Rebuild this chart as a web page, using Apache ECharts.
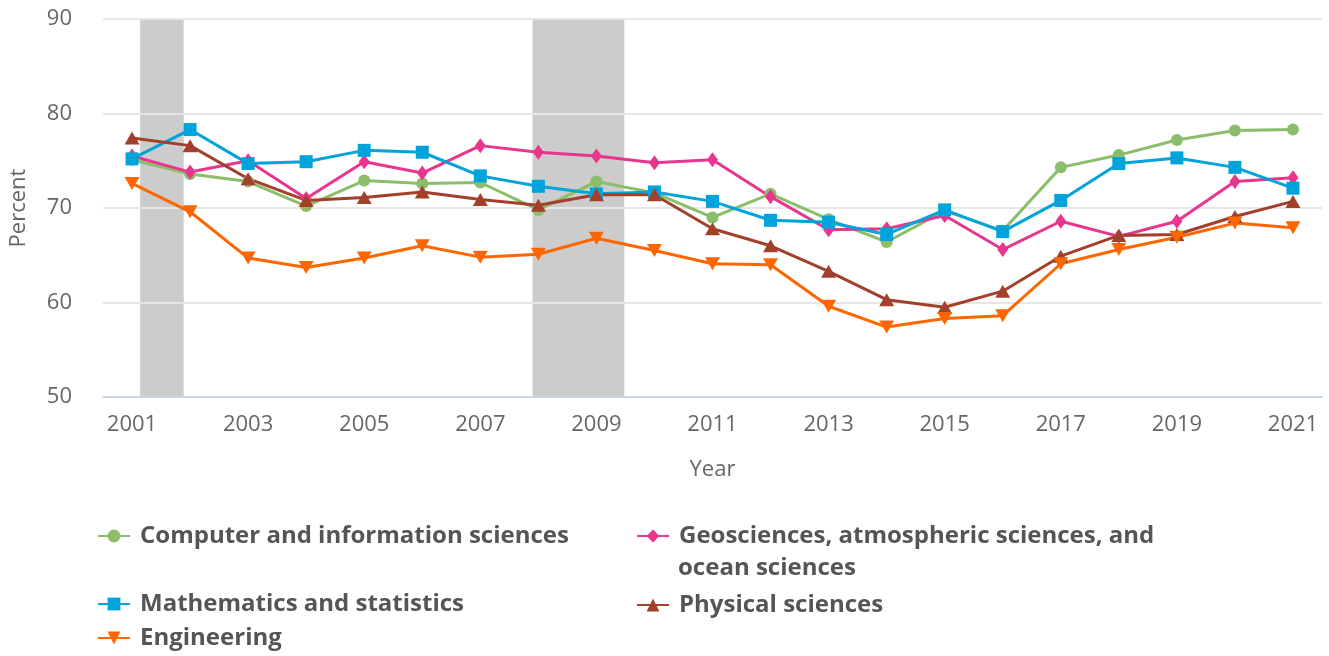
<!DOCTYPE html>
<html>
<head>
<meta charset="utf-8">
<title>Percent by field, 2001-2021</title>
<script src="https://cdn.jsdelivr.net/npm/echarts@6/dist/echarts.min.js"></script>
<style>
    html, body { margin: 0; padding: 0; background: #fff; }
    #chart { width: 1329px; height: 656px; }
</style>
</head>
<body>
<div id="chart"></div>
<script>
    // years on the x axis
    var years = ['2001', '2002', '2003', '2004', '2005', '2006', '2007', '2008', '2009', '2010', '2011',
        '2012', '2013', '2014', '2015', '2016', '2017', '2018', '2019', '2020', '2021'];

    // percent values
    var computer = [75.1, 73.6, 72.8, 70.2, 72.9, 72.6, 72.7, 69.8, 72.8, 71.6, 69.0,
        71.5, 68.8, 66.4, 69.7, 67.6, 74.3, 75.6, 77.2, 78.2, 78.3];
    var geosciences = [75.5, 73.8, 75.0, 71.0, 74.9, 73.7, 76.6, 75.9, 75.5, 74.8, 75.1,
        71.2, 67.7, 67.8, 69.2, 65.6, 68.6, 67.0, 68.6, 72.8, 73.2];
    var mathematics = [75.2, 78.3, 74.7, 74.9, 76.1, 75.9, 73.4, 72.3, 71.5, 71.7, 70.7,
        68.7, 68.5, 67.2, 69.8, 67.5, 70.8, 74.7, 75.3, 74.3, 72.1];
    var physical = [77.4, 76.6, 73.1, 70.8, 71.1, 71.7, 70.9, 70.3, 71.4, 71.4, 67.8,
        66.0, 63.3, 60.3, 59.5, 61.2, 64.9, 67.1, 67.2, 69.1, 70.7];
    var engineering = [72.6, 69.6, 64.7, 63.7, 64.7, 66.0, 64.8, 65.1, 66.8, 65.5, 64.1,
        64.0, 59.6, 57.4, 58.3, 58.6, 64.1, 65.6, 66.9, 68.4, 67.9];

    // recession periods (fractional years)
    var recessionStart = [2001.14, 2007.9];
    var recessionEnd = [2001.89, 2009.48];

    var yTicks = [50, 60, 70, 80, 90];

    var names = ['Computer and information sciences', 'Geosciences, atmospheric sciences, and',
        'Mathematics and statistics', 'Physical sciences', 'Engineering'];
    var colors = ['#8bbd6b', '#e8368f', '#00a3da', '#a2402b', '#ff6600'];

    var font = '"Open Sans", "Noto Sans", sans-serif';

    var chart = echarts.init(document.getElementById('chart'));

    function lineSeries(i, data, symbol, size) {
        return {
            name: names[i],
            type: 'line',
            data: data,
            symbol: symbol,
            symbolSize: size,
            showAllSymbol: true,
            color: colors[i],
            lineStyle: {width: 3, color: colors[i]},
            itemStyle: {color: colors[i]},
            emphasis: {disabled: true},
            animation: false
        };
    }

    function legendAt(i, left, top) {
        return {
            data: [names[i]],
            left: left,
            top: top,
            padding: 0,
            itemWidth: 32,
            itemHeight: 16,
            selectedMode: false,
            textStyle: {
                fontFamily: font,
                fontSize: 24,
                fontWeight: 'bold',
                color: '#555',
                padding: [0, 0, 0, 5]
            }
        };
    }

    var shadeAreas = recessionStart.map(function (s, k) {
        return [{xAxis: s}, {xAxis: recessionEnd[k]}];
    });

    var option = {
        backgroundColor: '#fff',
        animation: false,
        grid: {left: 103, right: 7, top: 19, bottom: 259},
        xAxis: [
            {
                type: 'category',
                data: years,
                boundaryGap: true,
                name: 'Year',
                nameLocation: 'middle',
                nameGap: 62,
                nameTextStyle: {fontFamily: font, fontSize: 22, color: '#666'},
                axisLine: {lineStyle: {color: '#ccd6eb', width: 2}},
                axisTick: {alignWithLabel: true, interval: 1, length: 18, lineStyle: {color: '#ccd6eb', width: 2}},
                axisLabel: {interval: 1, fontFamily: font, fontSize: 22, color: '#666', margin: 17},
                splitLine: {show: false}
            },
            {
                type: 'value',
                min: 2000.5,
                max: 2021.5,
                show: false
            }
        ],
        yAxis: {
            type: 'value',
            min: yTicks[0],
            max: yTicks[yTicks.length - 1],
            interval: 10,
            name: 'Percent',
            nameLocation: 'middle',
            nameGap: 73,
            nameTextStyle: {fontFamily: font, fontSize: 22, color: '#666'},
            axisLine: {show: false},
            axisTick: {show: false},
            axisLabel: {fontFamily: font, fontSize: 22, color: '#666', margin: 31},
            splitLine: {lineStyle: {color: '#e6e6e6', width: 2}}
        },
        legend: [
            legendAt(0, 97, 524),
            legendAt(1, 636, 524),
            legendAt(2, 97, 592),
            legendAt(3, 636, 593),
            legendAt(4, 97, 626)
        ],
        graphic: [{
            type: 'text',
            left: 678,
            top: 556,
            style: {
                text: 'ocean sciences',
                font: 'bold 24px ' + font,
                fill: '#555'
            }
        }],
        series: [
            {
                type: 'line',
                xAxisIndex: 1,
                data: [],
                z: -1,
                silent: true,
                markArea: {
                    silent: true,
                    z: -1,
                    itemStyle: {color: '#cccccc'},
                    data: shadeAreas
                }
            },
            lineSeries(0, computer, 'circle', 12),
            lineSeries(1, geosciences, 'diamond', [11, 15]),
            lineSeries(2, mathematics, 'rect', 13),
            lineSeries(3, physical, 'triangle', [15, 13]),
            lineSeries(4, engineering, 'path://M0,0 L10,0 L5,9 Z', [15, 13])
        ]
    };

    chart.setOption(option);
</script>
</body>
</html>
